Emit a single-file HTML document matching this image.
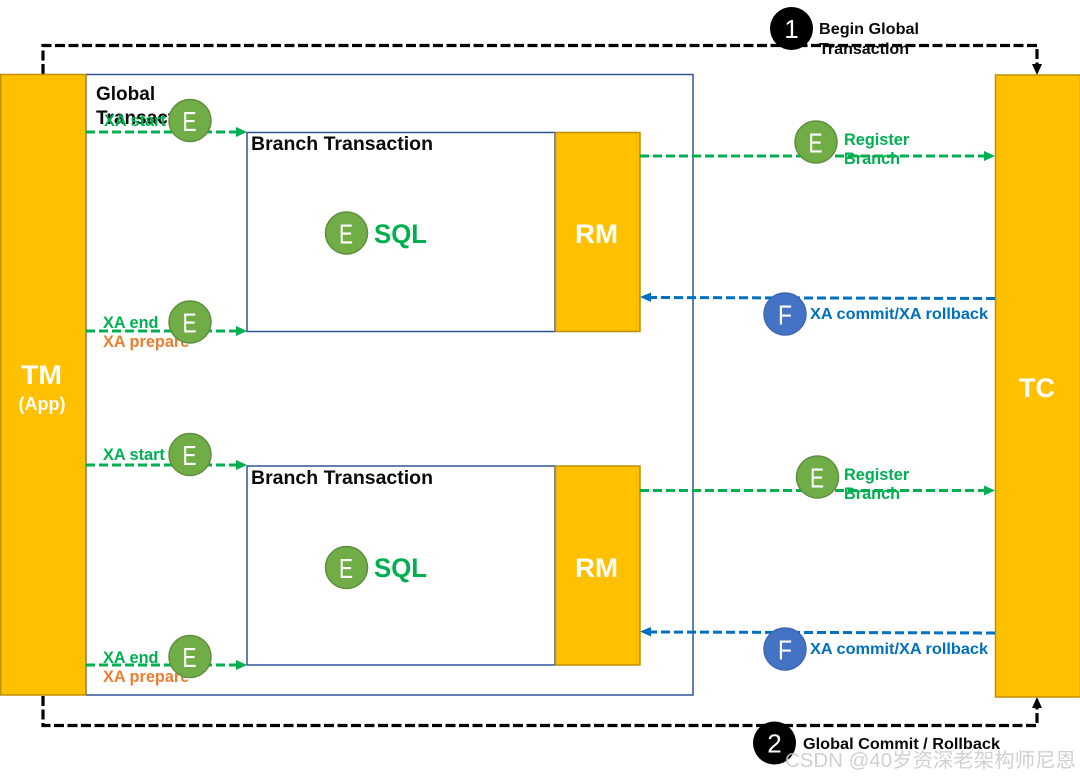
<!DOCTYPE html>
<html><head><meta charset="utf-8"><style>
html,body{margin:0;padding:0;background:#fff;width:1080px;height:778px;overflow:hidden}
svg{display:block}
text{font-family:"Liberation Sans","Noto Sans CJK SC",sans-serif}
.b{font-weight:bold}
.g{fill:#00b050;font-weight:bold;font-size:16.3px}
.o{fill:#ed7d31;font-weight:bold;font-size:16.3px}
.bl{fill:#0070c0;font-weight:bold;font-size:16px}
.k{fill:#0a0a0a;font-weight:bold;font-size:16px}
.t{fill:#0a0a0a;font-weight:bold;font-size:19px}
.w{fill:#fff}
.l{fill:#fff;font-size:26px}
.e{fill:#fff;font-size:28px}
.gl{stroke:#00b050;stroke-width:3;stroke-dasharray:9 4;fill:none}
.bll{stroke:#0070c0;stroke-width:3;stroke-dasharray:9 4;fill:none}
.kl{stroke:#000;stroke-width:3.2;stroke-dasharray:10 3.5;fill:none}
.ce{fill:#70ad47;stroke:#5f8f3e;stroke-width:1.5}
.cf{fill:#4472c4;stroke:#3e68b0;stroke-width:1.5}
.y{fill:#ffc000;stroke:#bf9000;stroke-width:1.5}
.r{fill:#fff;stroke:#2f5597;stroke-width:1.5}
</style></head><body>
<svg width="1080" height="778" viewBox="0 0 1080 778" xmlns="http://www.w3.org/2000/svg">
<rect x="86" y="74.500" width="607" height="620.500" class="r"/>
<rect x="247" y="132.500" width="308" height="199" class="r"/>
<rect x="247" y="466" width="308" height="199" class="r"/>

<path d="M43 74V45.500H1037V66" class="kl"/>
<polygon points="1032,64 1042,64 1037,75" fill="#000"/>
<path d="M43 696V725.500H1037V707" class="kl"/>
<polygon points="1032,708 1042,708 1037,697" fill="#000"/>

<rect x="0.750" y="74.500" width="85" height="620.500" class="y"/>
<rect x="995.500" y="75" width="85" height="622" class="y"/>
<rect x="555.500" y="132.500" width="84.500" height="199" class="y"/>
<rect x="555.500" y="466" width="84.500" height="199" class="y"/>

<text x="96" y="100" class="t">Global</text>
<text x="96" y="124" class="t">Transaction</text>
<text x="251" y="150" class="t" textLength="182" lengthAdjust="spacingAndGlyphs">Branch Transaction</text>
<text x="251" y="484" class="t" textLength="182" lengthAdjust="spacingAndGlyphs">Branch Transaction</text>

<text x="104" y="126" class="g">XA start</text>
<text x="103" y="328" class="g">XA end</text>
<text x="103" y="347" class="o">XA prepare</text>
<text x="103" y="460" class="g">XA start</text>
<text x="103" y="663" class="g">XA end</text>
<text x="103" y="682" class="o">XA prepare</text>
<text x="844" y="145" class="g">Register</text>
<text x="844" y="164" class="g">Branch</text>
<text x="844" y="480" class="g">Register</text>
<text x="844" y="499" class="g">Branch</text>

<path d="M86 132H238" class="gl"/><polygon points="236,127 247,132 236,137" fill="#00b050"/>
<path d="M86 331H238" class="gl"/><polygon points="236,326 247,331 236,336" fill="#00b050"/>
<path d="M86 465H238" class="gl"/><polygon points="236,460 247,465 236,470" fill="#00b050"/>
<path d="M86 665H238" class="gl"/><polygon points="236,660 247,665 236,670" fill="#00b050"/>
<path d="M640 156H986" class="gl"/><polygon points="984,151 995,156 984,161" fill="#00b050"/>
<path d="M640 490.500H986" class="gl"/><polygon points="984,485.500 995,490.500 984,495.500" fill="#00b050"/>
<path d="M995 298.500L650 297.500" class="bll"/><polygon points="651,292.500 640,297 651,302" fill="#0070c0"/>
<path d="M995 633L650 632" class="bll"/><polygon points="651,627 640,631.500 651,636.500" fill="#0070c0"/>

<text x="819" y="34" class="k" textLength="100" lengthAdjust="spacingAndGlyphs">Begin Global</text>
<text x="819" y="54" class="k" textLength="90" lengthAdjust="spacingAndGlyphs">Transaction</text>
<text x="803" y="749" class="k" textLength="197" lengthAdjust="spacingAndGlyphs">Global Commit / Rollback</text>
<text x="810" y="319" class="bl" textLength="178" lengthAdjust="spacingAndGlyphs">XA commit/XA rollback</text>
<text x="810" y="654" class="bl" textLength="178" lengthAdjust="spacingAndGlyphs">XA commit/XA rollback</text>

<circle cx="190" cy="120.500" r="21" class="ce"/><text x="182.500" y="131" class="e" textLength="14" lengthAdjust="spacingAndGlyphs">E</text>
<circle cx="190" cy="322" r="21" class="ce"/><text x="182.500" y="332.500" class="e" textLength="14" lengthAdjust="spacingAndGlyphs">E</text>
<circle cx="190" cy="454.500" r="21" class="ce"/><text x="182.500" y="465" class="e" textLength="14" lengthAdjust="spacingAndGlyphs">E</text>
<circle cx="190" cy="656.500" r="21" class="ce"/><text x="182.500" y="667" class="e" textLength="14" lengthAdjust="spacingAndGlyphs">E</text>
<circle cx="346.500" cy="233" r="21" class="ce"/><text x="339" y="243.500" class="e" textLength="14" lengthAdjust="spacingAndGlyphs">E</text>
<circle cx="346.500" cy="567.500" r="21" class="ce"/><text x="339" y="578" class="e" textLength="14" lengthAdjust="spacingAndGlyphs">E</text>
<circle cx="816" cy="142" r="21" class="ce"/><text x="808.500" y="152.500" class="e" textLength="14" lengthAdjust="spacingAndGlyphs">E</text>
<circle cx="817.500" cy="477" r="21" class="ce"/><text x="810" y="487.500" class="e" textLength="14" lengthAdjust="spacingAndGlyphs">E</text>
<circle cx="785" cy="314" r="21" class="cf"/><text x="778" y="324.500" class="e" textLength="14" lengthAdjust="spacingAndGlyphs">F</text>
<circle cx="785" cy="649" r="21" class="cf"/><text x="778" y="659.500" class="e" textLength="14" lengthAdjust="spacingAndGlyphs">F</text>
<circle cx="791.500" cy="28.500" r="21.500" fill="#000"/><text x="791.500" y="38" text-anchor="middle" class="l">1</text>
<circle cx="774.500" cy="743" r="21.500" fill="#000"/><text x="774.500" y="752.500" text-anchor="middle" class="l">2</text>

<text x="374" y="243" font-size="27" font-weight="bold" fill="#00b050" textLength="53" lengthAdjust="spacingAndGlyphs">SQL</text>
<text x="374" y="577" font-size="27" font-weight="bold" fill="#00b050" textLength="53" lengthAdjust="spacingAndGlyphs">SQL</text>
<text x="575" y="243" font-size="27" font-weight="bold" class="w" textLength="43" lengthAdjust="spacingAndGlyphs">RM</text>
<text x="575" y="577" font-size="27" font-weight="bold" class="w" textLength="43" lengthAdjust="spacingAndGlyphs">RM</text>
<text x="21" y="384" font-size="27" font-weight="bold" class="w" textLength="41" lengthAdjust="spacingAndGlyphs">TM</text>
<text x="42" y="410" text-anchor="middle" font-size="18" font-weight="bold" class="w">(App)</text>
<text x="1037" y="397" text-anchor="middle" font-size="27" font-weight="bold" class="w">TC</text>

<text x="785" y="767" font-size="20" fill="#c8c8c8" fill-opacity="0.85" textLength="291" lengthAdjust="spacingAndGlyphs">CSDN @40岁资深老架构师尼恩</text>
</svg>
</body></html>
